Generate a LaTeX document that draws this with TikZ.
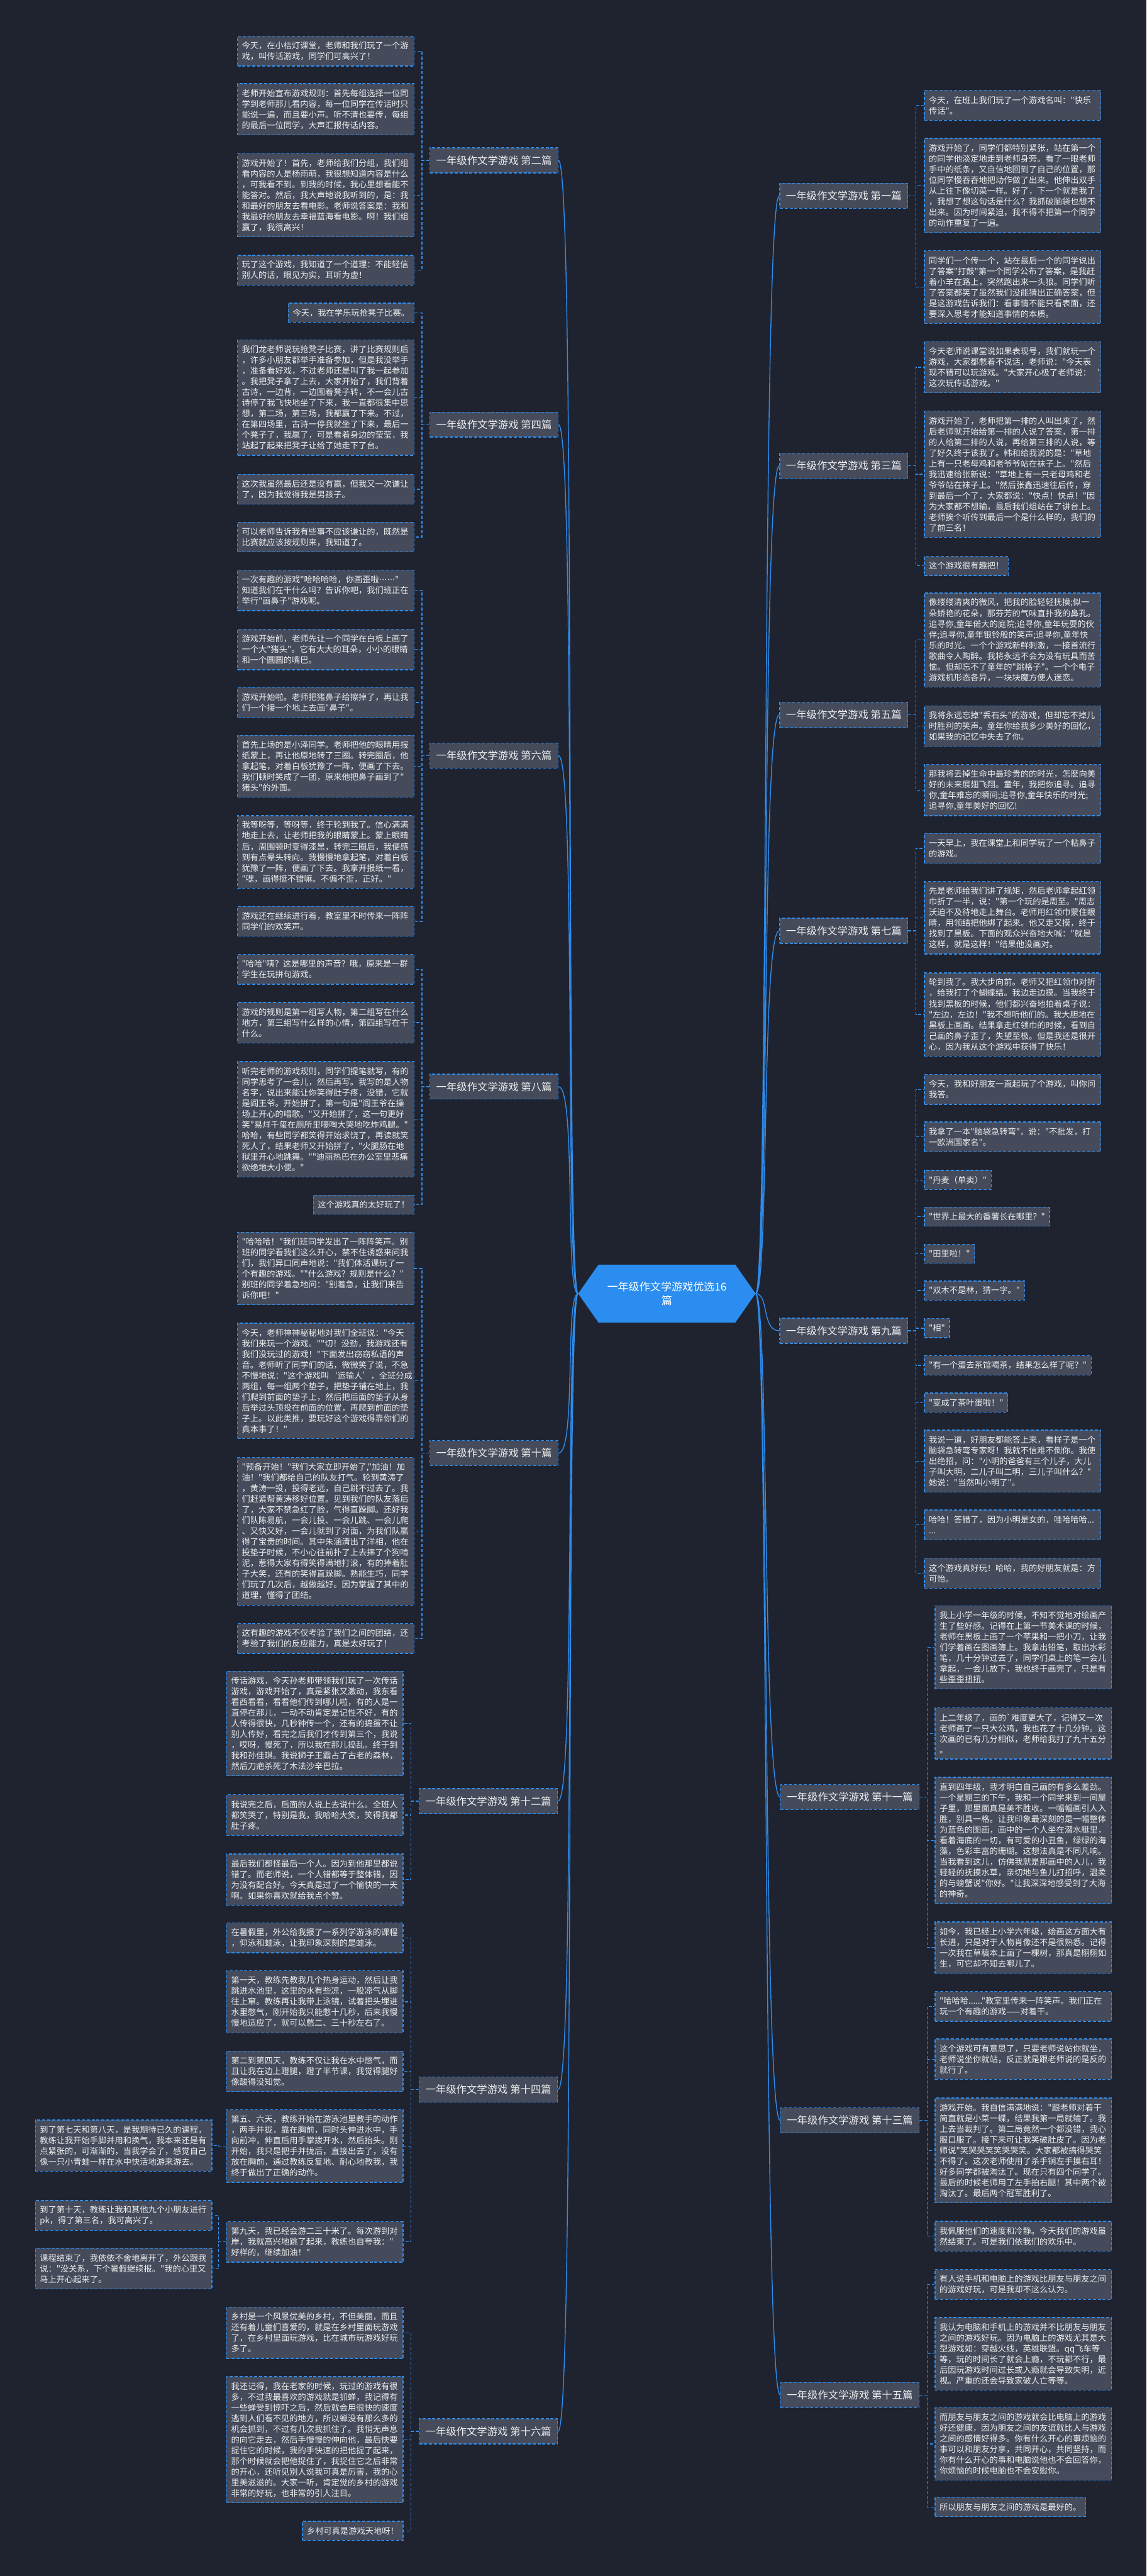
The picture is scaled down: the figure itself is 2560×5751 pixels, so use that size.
\documentclass[tikz,border=0pt]{standalone}
\usepackage{fontspec}
\newfontfamily\cjk{Noto Sans CJK SC}
\newfontfamily\dejavu{DejaVu Sans}
\usetikzlibrary{shapes.symbols}
\definecolor{bgc}{HTML}{1F2330}
\definecolor{boxc}{HTML}{454B5B}
\definecolor{bluec}{HTML}{2F8CEB}
\definecolor{txtc}{HTML}{EEEEEE}
\definecolor{centc}{HTML}{2B8DEF}
\newcommand\boxfont{\cjk\fontsize{18.6}{23.9}\selectfont}
\newcommand\labfont{\cjk\fontsize{23}{28}\selectfont}
\newcommand\centfont{\cjk\fontsize{24}{32}\selectfont}
\begin{document}
\begin{tikzpicture}[x=1pt,y=-1pt,
 box/.style={draw=bluec, dash pattern=on 7pt off 4pt, line width=1.8pt, fill=boxc, text=txtc, font=\boxfont, inner xsep=10pt, inner ysep=3pt, align=left},
 mb/.style={box, text width=374pt, minimum height={18.7pt+23.9pt*#1}},
 sb/.style={box, minimum height=42.6pt},
 lab/.style={draw=bluec, dash pattern=on 7pt off 4pt, line width=1.8pt, fill=boxc, text=txtc, font=\labfont, inner xsep=14pt, minimum height=56pt},
 conn/.style={draw=bluec, dash pattern=on 7pt off 4pt, line width=1.8pt},
 mainl/.style={draw=bluec, line width=2pt},
 lbox/.style={anchor=north east},
 rbox/.style={anchor=north west},
]
\fill[bgc] (0,0) rectangle (2560,5751);
\useasboundingbox (0,0) rectangle (2560,5751);

% ---------- centre ----------
\node[shape=signal, signal to=east and west, signal pointer angle=110, fill=centc, text=white, font=\centfont, align=center, minimum width=396pt, minimum height=129pt, inner sep=4pt] (C) at (1489,2888) {一年级作文学游戏优选16\\篇};

% ---------- labels ----------
\node[lab, anchor=west] (B2) at (959,358) {一年级作文学游戏 第二篇};
\node[lab, anchor=west] (B4) at (959,948) {一年级作文学游戏 第四篇};
\node[lab, anchor=west] (B6) at (959,1687) {一年级作文学游戏 第六篇};
\node[lab, anchor=west] (B8) at (959,2426) {一年级作文学游戏 第八篇};
\node[lab, anchor=west] (B10) at (959,3244) {一年级作文学游戏 第十篇};
\node[lab, anchor=west] (B12) at (935,4021) {一年级作文学游戏 第十二篇};
\node[lab, anchor=west] (B14) at (935,4665) {一年级作文学游戏 第十四篇};
\node[lab, anchor=west] (B16) at (935,5428) {一年级作文学游戏 第十六篇};
\node[lab, anchor=east] (B1) at (2028,437) {一年级作文学游戏 第一篇};
\node[lab, anchor=east] (B3) at (2028,1040) {一年级作文学游戏 第三篇};
\node[lab, anchor=east] (B5) at (2028,1596) {一年级作文学游戏 第五篇};
\node[lab, anchor=east] (B7) at (2028,2078) {一年级作文学游戏 第七篇};
\node[lab, anchor=east] (B9) at (2028,2971) {一年级作文学游戏 第九篇};
\node[lab, anchor=east] (B11) at (2053,4012) {一年级作文学游戏 第十一篇};
\node[lab, anchor=east] (B13) at (2053,4734) {一年级作文学游戏 第十三篇};
\node[lab, anchor=east] (B15) at (2053,5347) {一年级作文学游戏 第十五篇};

% ---------- left: 第二篇 ----------
\node[mb=2, lbox] (L2a) at (925,80) {今天，在小桔灯课堂，老师和我们玩了一个游\\戏，叫传话游戏，同学们可高兴了！};
\node[mb=4, lbox] (L2b) at (925,186) {老师开始宣布游戏规则：首先每组选择一位同\\学到老师那儿看内容，每一位同学在传话时只\\能说一遍，而且要小声。听不清也要传，每组\\的最后一位同学，大声汇报传话内容。};
\node[mb=7, lbox] (L2c) at (925,342) {游戏开始了！首先，老师给我们分组，我们组\\看内容的人是杨雨萌，我很想知道内容是什么\\，可我看不到。到我的时候，我心里想看能不\\能答对。然后，我大声地说我听到的，是：我\\和最好的朋友去看电影。老师说答案是：我和\\我最好的朋友去幸福蓝海看电影。啊！我们组\\赢了，我很高兴！};
\node[mb=2, lbox] (L2d) at (925,569) {玩了这个游戏，我知道了一个道理：不能轻信\\别人的话，眼见为实，耳听为虚！};
% 第四篇
\node[sb, lbox] (L4a) at (925,676) {今天，我在学乐玩抢凳子比赛。};
\node[mb=10, lbox] (L4b) at (925,758) {我们龙老师说玩抢凳子比赛，讲了比赛规则后\\，许多小朋友都举手准备参加，但是我没举手\\，准备看好戏，不过老师还是叫了我一起参加\\。我把凳子拿了上去，大家开始了，我们背着\\古诗，一边背，一边围着凳子转，不一会儿古\\诗停了我飞快地坐了下来，我一直都很集中思\\想，第二场，第三场，我都赢了下来。不过，\\在第四场里，古诗一停我就坐了下来，最后一\\个凳子了，我赢了，可是看着身边的莹莹，我\\站起了起来把凳子让给了她走下了台。};
\node[mb=2, lbox] (L4c) at (925,1058) {这次我虽然最后还是没有赢，但我又一次谦让\\了，因为我觉得我是男孩子。};
\node[mb=2, lbox] (L4d) at (925,1165) {可以老师告诉我有些事不应该谦让的，既然是\\比赛就应该按规则来，我知道了。};
% 第六篇
\node[mb=3, lbox] (L6a) at (925,1272) {一次有趣的游戏"哈哈哈哈，你画歪啦{\dejavu ······}"\\知道我们在干什么吗？告诉你吧，我们班正在\\举行"画鼻子"游戏呢。};
\node[mb=3, lbox] (L6b) at (925,1404) {游戏开始前，老师先让一个同学在白板上画了\\一个大"猪头"。它有大大的耳朵，小小的眼睛\\和一个圆圆的嘴巴。};
\node[mb=2, lbox] (L6c) at (925,1534) {游戏开始啦。老师把猪鼻子给擦掉了，再让我\\们一个接一个地上去画"鼻子"。};
\node[mb=5, lbox] (L6d) at (925,1641) {首先上场的是小泽同学。老师把他的眼睛用报\\纸蒙上，再让他原地转了三圈。转完圈后，他\\拿起笔，对着白板犹豫了一阵，便画了下去。\\我们顿时笑成了一团，原来他把鼻子画到了"\\猪头"的外面。};
\node[mb=6, lbox] (L6e) at (925,1820) {我等呀等，等呀等，终于轮到我了。信心满满\\地走上去，让老师把我的眼睛蒙上。蒙上眼睛\\后，周围顿时变得漆黑，转完三圈后，我便感\\到有点晕头转向。我慢慢地拿起笔，对着白板\\犹豫了一阵，便画了下去。我拿开报纸一看，\\"嘿，画得挺不错嘛。不偏不歪，正好。"};
\node[mb=2, lbox] (L6f) at (925,2023) {游戏还在继续进行着，教室里不时传来一阵阵\\同学们的欢笑声。};
% 第八篇
\node[mb=2, lbox] (L8a) at (925,2130) {"哈哈"咦？这是哪里的声音？哦，原来是一群\\学生在玩拼句游戏。};
\node[mb=3, lbox] (L8b) at (925,2237) {游戏的规则是第一组写人物，第二组写在什么\\地方，第三组写什么样的心情，第四组写在干\\什么。};
\node[mb=10, lbox] (L8c) at (925,2369) {听完老师的游戏规则，同学们提笔就写，有的\\同学思考了一会儿，然后再写。我写的是人物\\名字，说出来能让你笑得肚子疼，没错，它就\\是阎王爷。开始拼了，第一句是"阎王爷在操\\场上开心的唱歌。"又开始拼了，这一句更好\\笑"易烊千玺在厕所里嚎啕大哭地吃炸鸡腿。"\\哈哈，有些同学都笑得开始求饶了，再读就笑\\死人了，结果老师又开始拼了，"火腿肠在地\\狱里开心地跳舞。""迪丽热巴在办公室里悲痛\\欲绝地大小便。"};
\node[sb, lbox] (L8d) at (925,2667) {这个游戏真的太好玩了！};
% 第十篇
\node[mb=6, lbox] (L10a) at (925,2750) {"哈哈哈！"我们班同学发出了一阵阵笑声。别\\班的同学看我们这么开心，禁不住诱惑来问我\\们，我们异口同声地说："我们体活课玩了一\\个有趣的游戏。""什么游戏？规则是什么？"\\别班的同学着急地问："别着急，让我们来告\\诉你吧！"};
\node[mb=10, lbox] (L10b) at (925,2953) {今天，老师神神秘秘地对我们全班说："今天\\我们来玩一个游戏。""切！没劲，我游戏还有\\我们没玩过的游戏！"下面发出窃窃私语的声\\音。老师听了同学们的话，微微笑了说，不急\\不慢地说："这个游戏叫‘运输人’，全班分成\\两组，每一组两个垫子，把垫子铺在地上，我\\们爬到前面的垫子上，然后把后面的垫子从身\\后举过头顶投在前面的位置，再爬到前面的垫\\子上。以此类推，要玩好这个游戏得靠你们的\\真本事了！"};
\node[mb=13, lbox] (L10c) at (925,3253) {"预备开始！"我们大家立即开始了,"加油！加\\油！"我们都给自己的队友打气。轮到黄涛了\\，黄涛一投，投得老远，自己跳不过去了。我\\们赶紧帮黄涛移好位置。见到我们的队友落后\\了，大家不禁急红了脸，气得直跺脚。还好我\\们队陈易航，一会儿投、一会儿跳、一会儿爬\\、又快又好，一会儿就到了对面，为我们队赢\\得了宝贵的时间。其中朱涵清出了洋相，他在\\投垫子时候，不小心往前扑了上去摔了个狗啃\\泥，惹得大家有得笑得满地打滚，有的捧着肚\\子大笑，还有的笑得直跺脚。熟能生巧，同学\\们玩了几次后，越做越好。因为掌握了其中的\\道理，懂得了团结。};
\node[mb=2, lbox] (L10d) at (925,3624) {这有趣的游戏不仅考验了我们之间的团结，还\\考验了我们的反应能力，真是太好玩了！};
% 第十二篇
\node[mb=9, lbox] (L12a) at (901,3730) {传话游戏，今天孙老师带领我们玩了一次传话\\游戏，游戏开始了，真是紧张又激动，我东看\\看西看看，看看他们传到哪儿啦，有的人是一\\直停在那儿，一动不动肯定是记性不好，有的\\人传得很快，几秒钟传一个，还有的捣蛋不让\\别人传好，看完之后我们才传到第三个，我说\\，哎呀，慢死了，所以我在那儿捣乱。终于到\\我和孙佳琪。我说狮子王霸占了古老的森林，\\然后刀疤杀死了木法沙辛巴拉。};
\node[mb=3, lbox] (L12b) at (901,4006) {我说完之后，后面的人说上去说什么。全班人\\都笑哭了，特别是我，我哈哈大笑，笑得我都\\肚子疼。};
\node[mb=4, lbox] (L12c) at (901,4138) {最后我们都怪最后一个人。因为到他那里都说\\错了。而老师说，一个人错都等于整体错，因\\为没有配合好。今天真是过了一个愉快的一天\\啊。如果你喜欢就给我点个赞。};
% 第十四篇
\node[mb=2, lbox] (L14a) at (901,4292) {在暑假里，外公给我报了一系列学游泳的课程\\，仰泳和蛙泳，让我印象深刻的是蛙泳。};
\node[mb=5, lbox] (L14b) at (901,4399) {第一天，教练先教我几个热身运动，然后让我\\跳进水池里，这里的水有些凉，一股凉气从脚\\往上窜。教练再让我带上泳镜，试着把头埋进\\水里憋气，刚开始我只能憋十几秒，后来我慢\\慢地适应了，就可以憋二、三十秒左右了。};
\node[mb=3, lbox] (L14c) at (901,4578) {第二到第四天，教练不仅让我在水中憋气，而\\且让我在边上蹬腿，蹬了半节课，我觉得腿好\\像酸得没知觉。};
\node[mb=6, lbox] (L14d) at (901,4709) {第五、六天，教练开始在游泳池里教手的动作\\，两手并拢，靠在胸前，同时头伸进水中，手\\向前冲，伸直后用手掌拨开水，然后抬头。刚\\开始，我只是把手并拢后，直接出去了，没有\\放在胸前，通过教练反复地、耐心地教我，我\\终于做出了正确的动作。};
\node[mb=4, lbox] (L14d1) at (474,4732) {到了第七天和第八天，是我期待已久的课程，\\教练让我开始手脚并用和换气，我本来还是有\\点紧张的，可渐渐的，当我学会了，感觉自己\\像一只小青蛙一样在水中快活地游来游去。};
\node[mb=3, lbox] (L14e) at (901,4959) {第九天，我已经会游二三十米了。每次游到对\\岸，我就高兴地跳了起来，教练也自夸我："\\好样的，继续加油！"};
\node[mb=2, lbox] (L14e1) at (474,4912) {到了第十天，教练让我和其他九个小朋友进行\\pk，得了第三名，我可高兴了。};
\node[mb=3, lbox] (L14e2) at (474,5019) {课程结束了，我依依不舍地离开了，外公跟我\\说："没关系，下个暑假继续报。"我的心里又\\马上开心起来了。};
% 第十六篇
\node[mb=4, lbox] (L16a) at (901,5150) {乡村是一个风景优美的乡村，不但美丽，而且\\还有着儿童们喜爱的，就是在乡村里面玩游戏\\了，在乡村里面玩游戏，比在城市玩游戏好玩\\多了。};
\node[mb=11, lbox] (L16b) at (901,5305) {我还记得，我在老家的时候，玩过的游戏有很\\多，不过我最喜欢的游戏就是抓蝉，我记得有\\一些蝉受到惊吓之后，然后就会用很快的速度\\逃到人们看不见的地方，所以蝉没有那么多的\\机会抓到，不过有几次我抓住了。我悄无声息\\的向它走去，然后手慢慢的伸向他，最后快要\\捉住它的时候，我的手快速的把他捉了起来，\\那个时候就会把他捉住了，我捉住它之后非常\\的开心，还听见别人说我可真是厉害，我的心\\里美滋滋的。大家一听，肯定觉的乡村的游戏\\非常的好玩，也非常的引人注目。};
\node[sb, lbox] (L16c) at (901,5628) {乡村可真是游戏天地呀！};

% ---------- right: 第一篇 ----------
\node[mb=2, rbox] (R1a) at (2063,201) {今天，在班上我们玩了一个游戏名叫："快乐\\传话"。};
\node[mb=8, rbox] (R1b) at (2063,308) {游戏开始了，同学们都特别紧张，站在第一个\\的同学他淡定地走到老师身旁。看了一眼老师\\手中的纸条，又自信地回到了自己的位置，那\\位同学慢吞吞地把动作做了出来。他伸出双手\\从上往下像切菜一样。好了，下一个就是我了\\，我想了想这句话是什么？我抓破脑袋也想不\\出来。因为时间紧迫，我不得不把第一个同学\\的动作重复了一遍。};
\node[mb=6, rbox] (R1c) at (2063,559) {同学们一个传一个，站在最后一个的同学说出\\了答案"打鼓"第一个同学公布了答案，是我赶\\着小羊在路上，突然跑出来一头狼。同学们听\\了答案都笑了虽然我们没能猜出正确答案，但\\是这游戏告诉我们：看事情不能只看表面，还\\要深入思考才能知道事情的本质。};
% 第三篇
\node[mb=4, rbox] (R3a) at (2063,762) {今天老师说课堂说如果表现号，我们就玩一个\\游戏，大家都憋着不说话，老师说："今天表\\现不错可以玩游戏。"大家开心极了老师说：‘\\这次玩传话游戏。"};
\node[mb=11, rbox] (R3b) at (2063,917) {游戏开始了，老师把第一排的人叫出来了，然\\后老师就开始给第一排的人说了答案，第一排\\的人给第二排的人说，再给第三排的人说，等\\了好久终于该我了。韩和给我说的是："草地\\上有一只老母鸡和老爷爷站在袜子上。"然后\\我迅速给张新说："草地上有一只老母鸡和老\\爷爷站在袜子上。"然后张鑫迅速往后传，穿\\到最后一个了，大家都说："快点！快点！"因\\为大家都不想输，最后我们组站在了讲台上。\\老师挨个听传到最后一个是什么样的，我们的\\了前三名！};
\node[sb, rbox] (R3c) at (2063,1241) {这个游戏很有趣把！};
% 第五篇
\node[mb=8, rbox] (R5a) at (2063,1323) {像缕缕清爽的微风，把我的脸轻轻抚摸;似一\\朵娇艳的花朵，那芬芳的气味直扑我的鼻孔。\\追寻你,童年偌大的庭院;追寻你,童年玩耍的伙\\伴;追寻你,童年银铃般的笑声;追寻你,童年快\\乐的时光。一个个游戏新鲜刺激，一接首流行\\歌曲令人陶醉。我将永远不会为没有玩具而苦\\恼。但却忘不了童年的"跳格子"。一个个电子\\游戏机形态各异，一块块魔方使人迷恋。};
\node[mb=3, rbox] (R5b) at (2063,1575) {我将永远忘掉"丢石头"的游戏，但却忘不掉儿\\时胜利的笑声。童年你给我多少美好的回忆，\\如果我的记忆中失去了你。};
\node[mb=4, rbox] (R5c) at (2063,1706) {那我将丢掉生命中最珍贵的的时光，怎麽向美\\好的未来展翅飞翔。童年，我把你追寻。追寻\\你,童年难忘的瞬间;追寻你,童年快乐的时光;\\追寻你,童年美好的回忆!};
% 第七篇
\node[mb=2, rbox] (R7a) at (2063,1860) {一天早上，我在课堂上和同学玩了一个粘鼻子\\的游戏。};
\node[mb=6, rbox] (R7b) at (2063,1967) {先是老师给我们讲了规矩，然后老师拿起红领\\巾折了一半，说："第一个玩的是周至。"周志\\沃迫不及待地走上舞台。老师用红领巾蒙住眼\\睛，用领结把他绑了起来。他又走又摸，终于\\找到了黑板。下面的观众兴奋地大喊："就是\\这样，就是这样！"结果他没画对。};
\node[mb=7, rbox] (R7c) at (2063,2171) {轮到我了。我大步向前。老师又把红领巾对折\\，给我打了个蝴蝶结。我边走边摸。当我终于\\找到黑板的时候，他们都兴奋地拍着桌子说：\\"左边，左边！"我不想听他们的。我大胆地在\\黑板上画画。结果拿走红领巾的时候，看到自\\己画的鼻子歪了，失望至极。但是我还是很开\\心，因为我从这个游戏中获得了快乐！};
% 第九篇
\node[mb=2, rbox] (R9a) at (2063,2398) {今天，我和好朋友一直起玩了个游戏，叫你问\\我答。};
\node[mb=2, rbox] (R9b) at (2063,2504) {我拿了一本"脑袋急转弯"，说："不批发，打\\一欧洲国家名"。};
\node[sb, rbox] (R9c) at (2063,2612) {"丹麦（单卖）"};
\node[sb, rbox] (R9d) at (2063,2694) {"世界上最大的番薯长在哪里？"};
\node[sb, rbox] (R9e) at (2063,2777) {"田里啦！"};
\node[sb, rbox] (R9f) at (2063,2859) {"双木不是林，猜一字。"};
\node[sb, rbox] (R9g) at (2063,2943) {"相"};
\node[sb, rbox] (R9h) at (2063,3026) {"有一个蛋去茶馆喝茶，结果怎么样了呢？"};
\node[sb, rbox] (R9i) at (2063,3109) {"变成了茶叶蛋啦！"};
\node[mb=5, rbox] (R9j) at (2063,3192) {我说一道，好朋友都能答上来，看样子是一个\\脑袋急转弯专家呀！我就不信难不倒你。我使\\出绝招，问："小明的爸爸有三个儿子，大儿\\子叫大明，二儿子叫二明，三儿子叫什么？"\\她说："当然叫小明了"。};
\node[mb=2, rbox] (R9k) at (2063,3370) {哈哈！答错了，因为小明是女的，哇哈哈哈...\\...};
\node[mb=2, rbox] (R9l) at (2063,3478) {这个游戏真好玩！哈哈，我的好朋友就是：方\\可怡。};
% 第十一篇
\node[mb=7, rbox] (R11a) at (2087,3584) {我上小学一年级的时候，不知不觉地对绘画产\\生了些好感。记得在上第一节美术课的时候，\\老师在黑板上画了一个苹果和一把小刀，让我\\们学着画在图画簿上。我拿出铅笔，取出水彩\\笔，几十分钟过去了，同学们桌上的笔一会儿\\拿起，一会儿放下，我也终于画完了，只是有\\些歪歪扭扭。};
\node[mb=4, rbox] (R11b) at (2087,3812) {上二年级了，画的`难度更大了，记得又一次\\老师画了一只大公鸡，我也花了十几分钟。这\\次画的已有几分相似，老师给我打了九十五分\\。};
\node[mb=11, rbox] (R11c) at (2087,3967) {直到四年级，我才明白自己画的有多么差劲。\\一个星期三的下午，我和一个同学来到一间屋\\子里，那里面真是美不胜收。一幅幅画引人入\\胜，别具一格。让我印象最深刻的是一幅整体\\为蓝色的图画，画中的一个人坐在潜水艇里，\\看着海底的一切，有可爱的小丑鱼，绿绿的海\\藻，色彩丰富的珊瑚。这想法真是不同凡响。\\当我看到这儿，仿佛我就是那画中的人儿，我\\轻轻的抚摸水草，亲切地与鱼儿打招呼，温柔\\的与螃蟹说"你好。"让我深深地感受到了大海\\的神奇。};
\node[mb=4, rbox] (R11d) at (2087,4290) {如今，我已经上小学六年级，绘画这方面大有\\长进，只是对于人物肖像还不是很熟悉。记得\\一次我在草稿本上画了一棵树，那真是栩栩如\\生，可它却不知去哪儿了。};
% 第十三篇
\node[mb=2, rbox] (R13a) at (2087,4445) {"哈哈哈......"教室里传来一阵笑声。我们正在\\玩一个有趣的游戏——对着干。};
\node[mb=3, rbox] (R13b) at (2087,4551) {这个游戏可有意思了，只要老师说站你就坐，\\老师说坐你就站，反正就是跟老师说的是反的\\就行了。};
\node[mb=9, rbox] (R13c) at (2087,4683) {游戏开始。我自信满满地说："跟老师对着干\\简直就是小菜一蝶，结果我第一局就输了。我\\上去当裁判了。第二局竟然一个都没错，我心\\服口服了。接下来可让我笑破肚皮了。因为老\\师说"笑哭哭笑笑哭哭笑。大家都被搞得哭笑\\不得了。这次老师使用了杀手锏左手摸右耳！\\好多同学都被淘汰了。现在只有四个同学了。\\最后的时候老师用了左手拍右腿！其中两个被\\淘汰了。最后两个冠军胜利了。};
\node[mb=2, rbox] (R13d) at (2087,4958) {我佩服他们的速度和冷静。今天我们的游戏虽\\然结束了。可是我们依我们的欢乐中。};
% 第十五篇
\node[mb=2, rbox] (R15a) at (2087,5066) {有人说手机和电脑上的游戏比朋友与朋友之间\\的游戏好玩，可是我却不这么认为。};
\node[mb=6, rbox] (R15b) at (2087,5173) {我认为电脑和手机上的游戏并不比朋友与朋友\\之间的游戏好玩。因为电脑上的游戏尤其是大\\型游戏如：穿越火线，英雄联盟。qq飞车等\\等，玩的时间长了就会上瘾，不玩都不行，最\\后因玩游戏时间过长或入瘾就会导致失明，近\\视。严重的还会导致家破人亡等等。};
\node[mb=6, rbox] (R15c) at (2087,5374) {而朋友与朋友之间的游戏就会比电脑上的游戏\\好还健康，因为朋友之间的友谊就比人与游戏\\之间的感情好得多。你有什么开心的事烦恼的\\事可以和朋友分享，共同开心，共同坚持，而\\你有什么开心的事和电脑说他也不会回答你，\\你烦恼的时候电脑也不会安慰你。};
\node[sb, rbox] (R15d) at (2087,5575) {所以朋友与朋友之间的游戏是最好的。};

% ---------- connectors: centre to labels ----------
\foreach \b in {B2,B4,B6,B8,B10,B12,B14,B16}
  \draw[mainl] (C.west) .. controls +(-30,0) and +(40,0) .. (\b.east);
\foreach \b in {B1,B3,B5,B7,B9,B11,B13,B15}
  \draw[mainl] (C.east) .. controls +(30,0) and +(-40,0) .. (\b.west);

% ---------- connectors: labels to boxes ----------
\foreach \b/\cs in {B2/{L2a,L2b,L2c,L2d}, B4/{L4a,L4b,L4c,L4d}, B6/{L6a,L6b,L6c,L6d,L6e,L6f}, B8/{L8a,L8b,L8c,L8d}, B10/{L10a,L10b,L10c,L10d}, B12/{L12a,L12b,L12c}, B14/{L14a,L14b,L14c,L14d,L14e}, B16/{L16a,L16b,L16c}}
  \foreach \c in \cs
    \draw[conn] (\b.west) -- ++(-17,0) |- (\c.east);
\foreach \b/\cs in {B1/{R1a,R1b,R1c}, B3/{R3a,R3b,R3c}, B5/{R5a,R5b,R5c}, B7/{R7a,R7b,R7c}, B9/{R9a,R9b,R9c,R9d,R9e,R9f,R9g,R9h,R9i,R9j,R9k,R9l}, B11/{R11a,R11b,R11c,R11d}, B13/{R13a,R13b,R13c,R13d}, B15/{R15a,R15b,R15c,R15d}}
  \foreach \c in \cs
    \draw[conn] (\b.east) -- ++(17,0) |- (\c.west);
\draw[conn] (L14d.west) -- ++(-17,0) |- (L14d1.east);
\draw[conn] (L14e.west) -- ++(-17,0) |- (L14e1.east);
\draw[conn] (L14e.west) -- ++(-17,0) |- (L14e2.east);
\end{tikzpicture}
\end{document}
